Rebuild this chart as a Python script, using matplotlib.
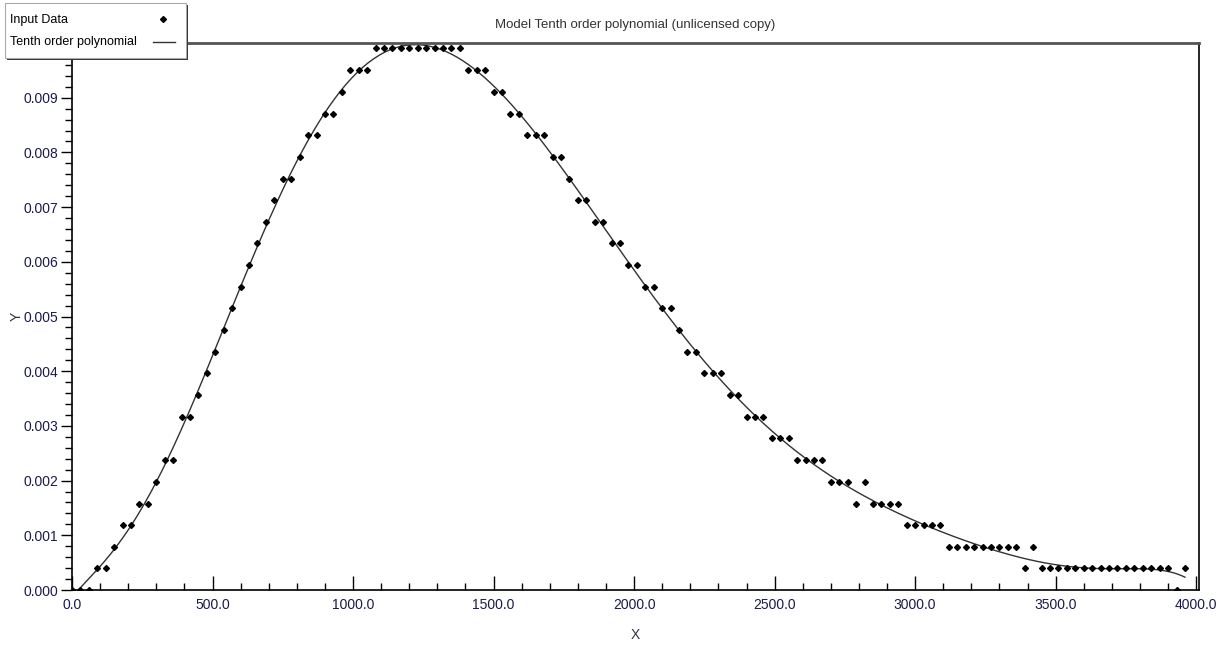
import numpy as np
import matplotlib
matplotlib.use("Agg")
import matplotlib.pyplot as plt
from matplotlib import font_manager
from matplotlib.lines import Line2D
from matplotlib.patches import Rectangle
from matplotlib.ticker import MultipleLocator, FixedLocator, FormatStrFormatter

# data
x_data = [30 * i for i in range(133)]
y_data = [
    0.0, 0.0, 0.0, 0.00040, 0.00040, 0.00079, 0.00119, 0.00119, 0.00158, 0.00158,
    0.00198, 0.00238, 0.00238, 0.00317, 0.00317, 0.00356, 0.00396, 0.00436, 0.00475, 0.00515,
    0.00554, 0.00594, 0.00634, 0.00673, 0.00713, 0.00752, 0.00752, 0.00792, 0.00832, 0.00832,
    0.00871, 0.00871, 0.00911, 0.00950, 0.00950, 0.00950, 0.00990, 0.00990, 0.00990, 0.00990,
    0.00990, 0.00990, 0.00990, 0.00990, 0.00990, 0.00990, 0.00990, 0.00950, 0.00950, 0.00950,
    0.00911, 0.00911, 0.00871, 0.00871, 0.00832, 0.00832, 0.00832, 0.00792, 0.00792, 0.00752,
    0.00713, 0.00713, 0.00673, 0.00673, 0.00634, 0.00634, 0.00594, 0.00594, 0.00554, 0.00554,
    0.00515, 0.00515, 0.00475, 0.00436, 0.00436, 0.00396, 0.00396, 0.00396, 0.00356, 0.00356,
    0.00317, 0.00317, 0.00317, 0.00277, 0.00277, 0.00277, 0.00238, 0.00238, 0.00238, 0.00238,
    0.00198, 0.00198, 0.00198, 0.00158, 0.00198, 0.00158, 0.00158, 0.00158, 0.00158, 0.00119,
    0.00119, 0.00119, 0.00119, 0.00119, 0.00079, 0.00079, 0.00079, 0.00079, 0.00079, 0.00079,
    0.00079, 0.00079, 0.00079, 0.00040, 0.00079, 0.00040, 0.00040, 0.00040, 0.00040, 0.00040,
    0.00040, 0.00040, 0.00040, 0.00040, 0.00040, 0.00040, 0.00040, 0.00040, 0.00040, 0.00040,
    0.00040, 0.0, 0.00040,
]
y_ticks = [0.0, 0.001, 0.002, 0.003, 0.004, 0.005, 0.006, 0.007, 0.008, 0.009]

title = "Model Tenth order polynomial (unlicensed copy)"
data_label = "Input Data"
fit_label = "Tenth order polynomial"

names = {f.name for f in font_manager.fontManager.ttflist}
family = "Liberation Sans Narrow" if "Liberation Sans Narrow" in names else "Liberation Sans"
plt.rcParams["font.family"] = [family, "DejaVu Sans"]

# tenth order polynomial model of the input data
poly = np.polynomial.Polynomial.fit(x_data, y_data, 10)
x_fit = np.linspace(min(x_data), max(x_data), 400)
y_fit = poly(x_fit)

W, H = 1220, 646
fig = plt.figure(figsize=(W / 100, H / 100), dpi=100)
ax = fig.add_axes([72 / W, 56 / H, 1127 / W, 547 / H])

ax.plot(x_fit, y_fit, color="#333333", lw=1.0, zorder=2)
ax.plot(x_data, y_data, linestyle="none", marker="D", markersize=3.0,
        color="black", zorder=3)

ax.set_xlim(0, 4010)
ax.set_ylim(0, 0.01)

ax.xaxis.set_major_locator(MultipleLocator(500))
ax.xaxis.set_minor_locator(MultipleLocator(100))
ax.yaxis.set_major_locator(FixedLocator(y_ticks))
ax.yaxis.set_minor_locator(MultipleLocator(0.0002))
ax.xaxis.set_major_formatter(FormatStrFormatter("%.1f"))
ax.yaxis.set_major_formatter(FormatStrFormatter("%.3f"))

ax.tick_params(axis="x", which="major", direction="in", length=10, width=1,
               labelsize=10, labelcolor="#1a1a4d", pad=6)
ax.tick_params(axis="x", which="minor", direction="in", length=5, width=1)
ax.tick_params(axis="y", which="major", direction="out", length=8, width=1,
               labelsize=10, labelcolor="#1a1a4d", pad=2)
ax.tick_params(axis="y", which="minor", direction="out", length=5, width=1)

for s in ["left", "bottom", "right"]:
    ax.spines[s].set_color("black")
    ax.spines[s].set_linewidth(1.2)
ax.spines["top"].set_color("#555555")
ax.spines["top"].set_linewidth(2)

ax.set_title(title, fontsize=9.5, color="#333333", pad=11)
ax.set_xlabel("X", fontsize=10, color="#333344")
ax.set_ylabel("Y", fontsize=10, color="#333344")
ax.xaxis.set_label_coords(0.5, -0.069)
ax.yaxis.set_label_coords(-0.043, 0.5)

# legend box in the top-left corner of the figure
def px(x, y):
    return x / W, 1 - y / H

x0, y0 = px(5, 58)
x1, y1 = px(186, 3)
xs, ys = px(7, 60)
fig.patches.append(Rectangle((xs, ys), x1 - x0, y1 - y0, transform=fig.transFigure,
                             facecolor="#333333", edgecolor="none", zorder=5))
fig.patches.append(Rectangle((x0, y0), x1 - x0, y1 - y0, transform=fig.transFigure,
                             facecolor="white", edgecolor="#aaaaaa", lw=0.8, zorder=6))
tx, ty = px(10, 20)
fig.text(tx, ty, data_label, fontsize=9, va="center", ha="left", zorder=7)
mx, my = px(163, 19)
fig.lines.append(Line2D([mx], [my], transform=fig.transFigure, marker="D",
                        markersize=3.0, color="black", linestyle="none", zorder=7))
tx, ty = px(10, 42)
fig.text(tx, ty, fit_label, fontsize=9, va="center", ha="left", zorder=7)
lx0, ly = px(153, 42)
lx1, _ = px(175, 42)
fig.lines.append(Line2D([lx0, lx1], [ly, ly], transform=fig.transFigure,
                        color="#333333", lw=1.0, zorder=7))

fig.savefig("out.png", dpi=100)
